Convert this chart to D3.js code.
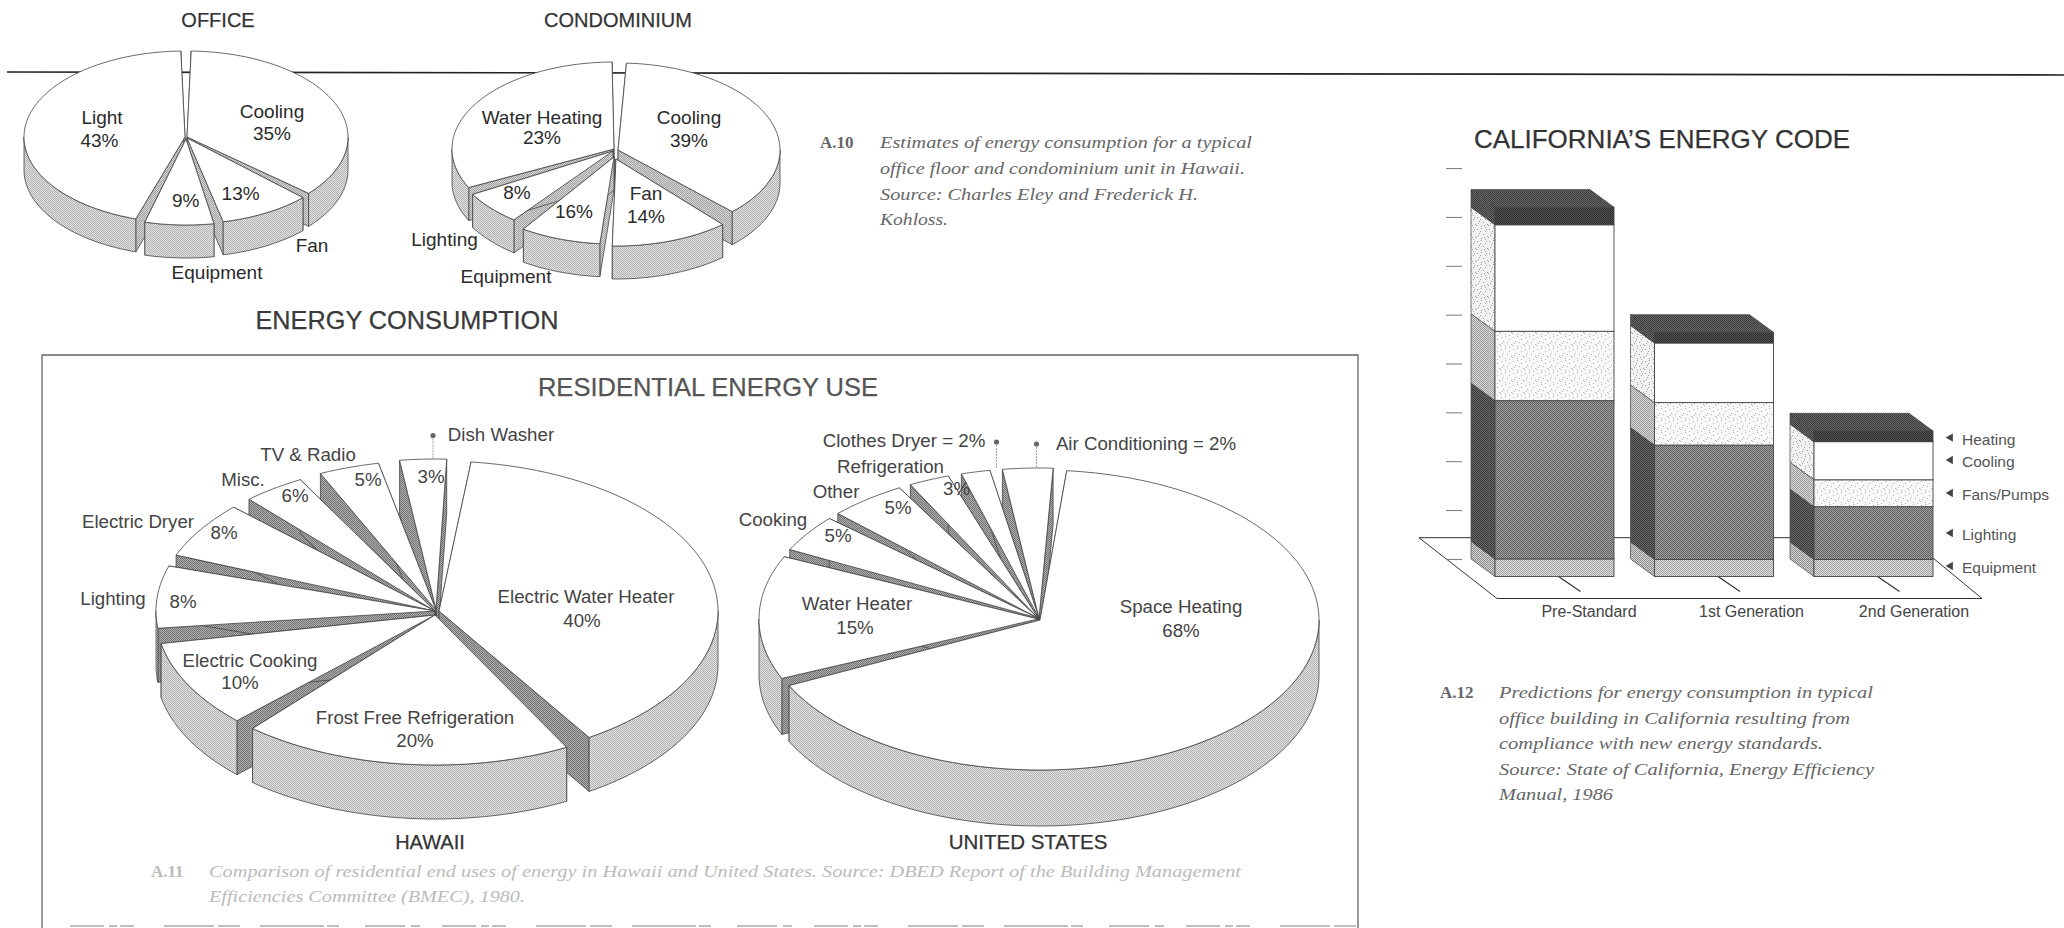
<!DOCTYPE html>
<html><head><meta charset="utf-8">
<script src="https://d3js.org/d3.v7.min.js"></script>
<style>html,body{margin:0;padding:0;background:#fff;overflow:hidden}svg{display:block}
text{font-family:"Liberation Sans",Arial,sans-serif}
.cap{font-family:"Liberation Serif",serif;font-style:italic}
.capn{font-family:"Liberation Serif",serif;font-weight:bold}</style></head>
<body><svg id="c" width="2064" height="928"></svg>
<script>
// ---------- DATA ----------
// "Labelled" = percentages printed on the picture; "Drawn" = slice widths as actually measured on the picture.
const officeNames = ["Cooling","Fan","Equipment","Light"];
const officeLabelled = [35,13,9,43];
const officeDrawn = [36,9.2,6.9,44.7];
const condoNames = ["Cooling","Fan","Equipment","Lighting","Water Heating"];
const condoLabelled = [39,14,16,8,23];
const condoDrawn = [36.7,11.8,8.05,6.2,32.1];
const hawaiiNames = ["Electric Water Heater","Frost Free Refrigeration","Electric Cooking","Lighting","Electric Dryer","Misc.","TV & Radio","Dish Washer"];
const hawaiiLabelled = [40,20,10,8,8,6,5,3];
const hawaiiDrawn = [39.2,19.2,9.4,6.7,6.1,3.6,3.5,2.7];
const usNames = ["Space Heating","Water Heater","Cooking","Other","Refrigeration","Clothes Dryer","Air Conditioning"];
const usLabelled = [68,15,5,5,3,2,2];
const usDrawn = [66.25,13.3,4,4.45,2.35,1.67,2.9];
const barCategories = ["Pre-Standard","1st Generation","2nd Generation"];
const barSeries = ["Equipment","Lighting","Fans/Pumps","Cooling","Heating"];
const equipmentValues = [0.36,0.35,0.35];
const lightingValues = [3.24,2.34,1.08];
const fansValues = [1.42,0.87,0.55];
const coolingValues = [2.18,1.22,0.78];
const heatingValues = [0.36,0.22,0.22];
const barTicks = [0,1,2,3,4,5,6,7,8];
const caption10 = ["Estimates of energy consumption for a typical","office floor and condominium unit in Hawaii.","Source: Charles Eley and Frederick H.","Kohloss."];
const caption11 = ["Comparison of residential end uses of energy in Hawaii and United States. Source: DBED Report of the Building Management","Efficiencies Committee (BMEC), 1980."];
const caption12 = ["Predictions for energy consumption in typical","office building in California resulting from","compliance with new energy standards.","Source: State of California, Energy Efficiency","Manual, 1986"];

// ---------- LAYOUT ----------
const rad = d => d*Math.PI/180;
const pieLayouts = {
  office:{cx:186,cy:137,rx:161,ry:86,depth:33,start:0,pad:3,wall:"url(#wallL)",
    shift:[[1,0],[1,1],[0,2],[-1,0]], fs:19, color:"#2a2a2a",
    labels:[{n:[272,112],p:[272,134]},{n:[312,246],p:[240.6,194]},{n:[217,273],p:[185.7,201]},{n:[102,118],p:[99.5,141]}]},
  condo:{cx:616,cy:150,rx:162,ry:87,depth:33,start:1.15,pad:3.7,wall:"url(#wallL)",
    shift:[[2,0],[0,9],[-2,7],[-3,1],[-2,-1]], fs:19, color:"#2a2a2a",
    labels:[{n:[689,118],p:[689,141]},{n:[646,194],p:[646,217]},{n:[506,277],p:[574,212]},{n:[444.5,240],p:[517,193]},{n:[542,118],p:[542,138]}]},
  hawaii:{cx:436,cy:612,rx:279,ry:150,depth:54,start:4.4,pad:4.4,wall:"url(#wall)",
    shift:[[3,-1],[-1,3],[-1,3],[-1,-1],[-1,-1],[-1,-1],[0,-2],[0,-3]], fs:18.7, color:"#444",
    labels:[{n:[586,596.5],p:[582,620.5]},{n:[415,718],p:[415,741]},{n:[250,661],p:[240,683]},{n:[113,599],p:[183,602]},{n:[138,522],p:[224,533]},{n:[243,480],p:[295,496]},{n:[308,455],p:[368,480]},{n:[501,435],p:[431,477]}]},
  us:{cx:1040,cy:620,rx:279,ry:150,depth:56,start:4.2,pad:2.6,wall:"url(#wall)",
    shift:[[0,0],[-2,-1],[-2,-2],[-2,-2],[-2,-2],[-1,-2],[-1,-2]], fs:18.7, color:"#444",
    labels:[{n:[1181,607],p:[1181,631]},{n:[857,604],p:[855,628]},{n:[773,519.5],p:[838,536]},{n:[836,491.6],p:[898,508]},{n:[890.5,467],p:[956.5,489]},{i:[904,441]},{i:[1146,444]}]}
};
const leaders = [[433,435.5,459],[996.5,442,469],[1036.5,444,467]];
const svg = d3.select("#c");
const defs = svg.append("defs");

// halftone textures (fixed tiles)
function tile(id,base,dot,cells,size){
  const p = defs.append("pattern").attr("id",id).attr("patternUnits","userSpaceOnUse").attr("width",size).attr("height",size);
  p.append("rect").attr("width",size).attr("height",size).attr("fill",base);
  cells.forEach(c=>p.append("rect").attr("x",c[0]).attr("y",c[1]).attr("width",1).attr("height",1).attr("fill",dot));
}
const checker=[[0,0],[2,0],[1,1],[3,1],[0,2],[2,2],[1,3],[3,3]];
tile("rim","#e4e4e4","#b0b0b0",checker,4);
tile("wall","#b0b0b0","#727272",checker,4);
tile("wallL","#d8d8d8","#a0a0a0",checker,4);
const speck=[[1,1],[5,0],[9,3],[3,5],[7,6],[11,8],[0,9],[5,10],[9,11],[2,7]];
tile("stip","#f8f8f8","#b0b0b0",speck,12);
tile("stipS","#f2f2f2","#a0a0a0",[...speck,[4,3],[8,9],[10,1]],12);
tile("fanS","#d8d8d8","#9a9a9a",checker,4);
tile("light","#a0a0a0","#606060",checker,4);
tile("lightS","#6c6c6c","#363636",checker,4);
tile("equip","#e0e0e0","#a0a0a0",checker,4);
tile("equipS","#d4d4d4","#8c8c8c",checker,4);
tile("capF","#555","#2a2a2a",checker,4);
tile("capT","#6a6a6a","#3a3a3a",checker,4);

// rule and frame (behind the pies)
svg.append("line").attr("x1",7).attr("y1",72).attr("x2",2064).attr("y2",75).attr("stroke","#222").attr("stroke-width",1.7);
const frame = svg.append("g").attr("stroke","#666").attr("fill","none");
frame.append("path").attr("d","M42,928V355H1358V928").attr("stroke-width",1.3);
svg.append("line").attr("x1",70).attr("y1",926).attr("x2",1370).attr("y2",926).attr("stroke","#aaa").attr("stroke-width",1.3).attr("stroke-dasharray","34 5 8 3 14 30 50 4 22 20 64 3 12 26 40 6 9 22");

function drawPie(cfg,names,values,labelValues){
  const pie = d3.pie().sort(null).padAngle(rad(cfg.pad)).startAngle(rad(cfg.start)).endAngle(rad(cfg.start)+2*Math.PI);
  const arcs = pie(values);
  const line = d3.line();
  const pad = rad(cfg.pad)/2;
  const slices = arcs.map((a,i)=>({a0:a.startAngle+pad,a1:a.endAngle-pad,i,mid:(a.startAngle+a.endAngle)/2}));
  slices.sort((s,t)=>Math.cos(t.mid)-Math.cos(s.mid));
  const g = svg.append("g");
  const sw = 0.8;
  slices.forEach(s=>{
    const [ox,oy]=cfg.shift[s.i];
    const X=cfg.cx+ox, Y=cfg.cy+oy;
    const pt=(a)=>[X+cfg.rx*Math.sin(a),Y-cfg.ry*Math.cos(a)];
    const sample=(p,q)=>{const n=Math.max(6,Math.ceil((q-p)/rad(2)));return d3.range(n+1).map(k=>pt(p+(q-p)*k/n));};
    const arc=sample(s.a0,s.a1);
    const low=p=>[p[0],p[1]+cfg.depth];
    const apex=[X,Y];
    const sl=g.append("g");
    [arc[0],arc[arc.length-1]].forEach(e=>{
      sl.append("path").attr("d",line([apex,e,low(e),low(apex)])+"Z").attr("fill",cfg.wall).attr("stroke","#444").attr("stroke-width",sw);
    });
    // the rim is only seen on the near half of the disc
    const r0=Math.max(s.a0,rad(90)), r1=Math.min(s.a1,rad(270));
    if(r1>r0){
      const front=sample(r0,r1);
      sl.append("path").attr("d",line([...front,...front.slice().reverse().map(low)])+"Z").attr("fill","url(#rim)").attr("stroke","#444").attr("stroke-width",sw);
    }
    sl.append("path").attr("d",line([apex,...arc])+"Z").attr("fill","#fff").attr("stroke","#444").attr("stroke-width",sw);
  });
  const t = svg.append("g").attr("fill",cfg.color).attr("font-size",cfg.fs).attr("text-anchor","middle");
  names.forEach((nm,i)=>{
    const l=cfg.labels[i];
    if(l.i){ t.append("text").attr("x",l.i[0]).attr("y",l.i[1]+6).text(nm+" = "+labelValues[i]+"%"); return; }
    t.append("text").attr("x",l.n[0]).attr("y",l.n[1]+6).text(nm);
    t.append("text").attr("x",l.p[0]).attr("y",l.p[1]+6).text(labelValues[i]+"%");
  });
}
drawPie(pieLayouts.office,officeNames,officeDrawn,officeLabelled);
drawPie(pieLayouts.condo,condoNames,condoDrawn,condoLabelled);
drawPie(pieLayouts.hawaii,hawaiiNames,hawaiiDrawn,hawaiiLabelled);
drawPie(pieLayouts.us,usNames,usDrawn,usLabelled);

leaders.forEach(d=>{
  svg.append("line").attr("x1",d[0]).attr("x2",d[0]).attr("y1",d[1]).attr("y2",d[2]).attr("stroke","#888").attr("stroke-width",.8).attr("stroke-dasharray","2 1");
  svg.append("circle").attr("cx",d[0]).attr("cy",d[1]).attr("r",2.6).attr("fill","#666");
});

// titles
const titles=[["OFFICE",218,20,20,"#333"],["CONDOMINIUM",618,20,20,"#333"],["ENERGY CONSUMPTION",407,320,25.3,"#3a3a3a"],["RESIDENTIAL ENERGY USE",708,387,25.5,"#555"],
 ["HAWAII",430,842,20,"#333"],["UNITED STATES",1028,842,20.5,"#333"],["CALIFORNIA\u2019S ENERGY CODE",1662,139,26,"#333"]];
titles.forEach(d=>svg.append("text").attr("x",d[1]).attr("y",d[2]+d[3]*.36).attr("text-anchor","middle").attr("font-size",d[3]).attr("fill",d[4]).attr("stroke",d[4]).attr("stroke-width",.25).text(d[0]));

// stacked bars
const baseY=576.5, unit=48.85, depthX=-24, depthY=-17.6;
const x=d3.scaleBand().domain(barCategories).range([1495,1933]).paddingInner(.254);
const y=d3.scaleLinear().domain([0,8]).range([baseY,baseY-8*unit]);
const floorLine=d3.line();
svg.append("path").attr("d",floorLine([[1419,537.7],[1497,598.5],[1982,598.5],[1933,558]])).attr("fill","none").attr("stroke","#333").attr("stroke-width",1);
svg.append("line").attr("x1",1419).attr("y1",537.7).attr("x2",1800).attr("y2",537.7).attr("stroke","#333").attr("stroke-width",1);
const axis=d3.axisRight(y).tickValues(barTicks).tickFormat("").tickSize(16);
const ax=svg.append("g").attr("transform",`translate(1446,${depthY})`).call(axis);
ax.select(".domain").remove();
ax.selectAll("line").attr("stroke","#777").attr("stroke-width",1);
barCategories.forEach(c=>{
  const bx=x(c)+x.bandwidth()/2+4;
  svg.append("line").attr("x1",bx).attr("y1",baseY).attr("x2",bx+22).attr("y2",baseY+15).attr("stroke","#333").attr("stroke-width",1.2);
});
const table=barCategories.map((c,i)=>({c,Equipment:equipmentValues[i],Lighting:lightingValues[i],"Fans/Pumps":fansValues[i],Cooling:coolingValues[i],Heating:heatingValues[i]}));
const stack=d3.stack().keys(barSeries)(table);
const faceFill={Equipment:"url(#equip)",Lighting:"url(#light)","Fans/Pumps":"url(#stip)",Cooling:"#fff",Heating:"url(#capF)"};
const sideFill={Equipment:"url(#equipS)",Lighting:"url(#lightS)","Fans/Pumps":"url(#fanS)",Cooling:"url(#stipS)",Heating:"url(#capT)"};
const poly=d3.line();
stack.forEach(layer=>{
  layer.forEach(seg=>{
    const cat=seg.data.c, x0=x(cat), w=x.bandwidth(), y0=y(seg[0]), y1=y(seg[1]);
    svg.append("path").attr("d",poly([[x0,y0],[x0,y1],[x0+depthX,y1+depthY],[x0+depthX,y0+depthY]])+"Z").attr("fill",sideFill[layer.key]).attr("stroke","#444").attr("stroke-width",.7);
    svg.append("rect").attr("x",x0).attr("y",y1).attr("width",w).attr("height",y0-y1).attr("fill",faceFill[layer.key]).attr("stroke","#444").attr("stroke-width",.9);
    if(layer.key==="Heating"){
      svg.append("path").attr("d",poly([[x0,y1],[x0+w,y1],[x0+w+depthX,y1+depthY],[x0+depthX,y1+depthY]])+"Z").attr("fill","url(#capT)").attr("stroke","#444").attr("stroke-width",.7);
    }
  });
});
const catCenters=[1589,1751.5,1914];
barCategories.forEach((c,i)=>svg.append("text").attr("x",catCenters[i]).attr("y",617).attr("text-anchor","middle").attr("font-size",16).attr("fill","#444").text(c));
const legendY=[439.6,462,495,535,568];
barSeries.slice().reverse().forEach((s,i)=>{
  svg.append("path").attr("d",d3.symbol(d3.symbolTriangle,30)()).attr("transform",`translate(1950.5,${legendY[i]-2}) rotate(-90)`).attr("fill","#444");
  svg.append("text").attr("x",1962).attr("y",legendY[i]+5).attr("font-size",15.5).attr("fill","#555").text(s);
});

function caption(tag,tx,x,lines,ys,widths,col){
  svg.append("text").attr("class","capn").attr("x",tx).attr("y",ys[0]).attr("font-size",17).attr("fill",col).text(tag);
  lines.forEach((l,i)=>svg.append("text").attr("class","cap").attr("x",x).attr("y",ys[i]).attr("font-size",17.5).attr("fill",col).attr("textLength",widths[i]).attr("lengthAdjust","spacingAndGlyphs").text(l));
}
caption("A.10",820,880,caption10,[148,174,200,225],[372,365,318,68],"#666");
caption("A.11",151,209,caption11,[877,902],[1032,316],"#bbb");
caption("A.12",1440,1499,caption12,[698,724,749,775,800],[374,351,324,375,114],"#666");
</script></body></html>
